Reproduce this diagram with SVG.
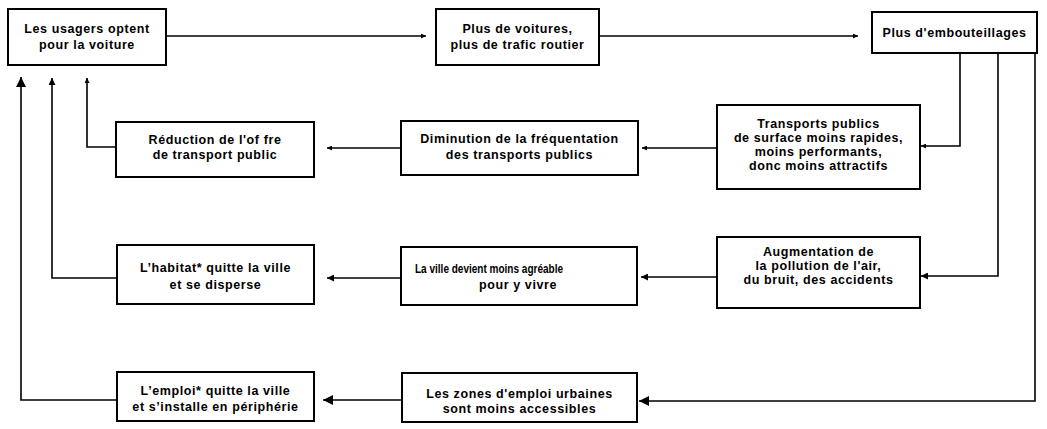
<svg xmlns="http://www.w3.org/2000/svg" width="1047" height="429" viewBox="0 0 1047 429">
<style>
.box{fill:#fff;stroke:#000;stroke-width:2}
.t{font-family:"Liberation Sans",Arial,sans-serif;font-size:12.5px;letter-spacing:0.6px;font-weight:bold;fill:#000;text-anchor:middle}
.c{fill:none;stroke:#000;stroke-width:1.6}
</style>
<defs>
<marker id="sm" viewBox="0 0 10 10" refX="10" refY="5" markerUnits="userSpaceOnUse" markerWidth="8" markerHeight="5" orient="auto"><path d="M0,0 L10,5 L0,10 z" fill="#000"/></marker>
<marker id="md" viewBox="0 0 10 10" refX="10" refY="5" markerUnits="userSpaceOnUse" markerWidth="10" markerHeight="7" orient="auto"><path d="M0,0 L10,5 L0,10 z" fill="#000"/></marker>
<marker id="lg" viewBox="0 0 10 10" refX="10" refY="5" markerUnits="userSpaceOnUse" markerWidth="12" markerHeight="10" orient="auto"><path d="M0,0 L10,5 L0,10 z" fill="#000"/></marker>
</defs>
<rect width="1047" height="429" fill="#fff"/>
<g id="connectors">
<path class="c" d="M166,36 H426" marker-end="url(#sm)"/>
<path class="c" d="M599,36 H858" marker-end="url(#sm)"/>
<path class="c" d="M960,53 V146 H921" marker-end="url(#sm)"/>
<path class="c" d="M717,148 H642" marker-end="url(#sm)"/>
<path class="c" d="M401,148 H327" marker-end="url(#sm)"/>
<path class="c" d="M116,147 H87 V78" marker-end="url(#sm)"/>
<path class="c" d="M998,53 V276 H921" marker-end="url(#md)"/>
<path class="c" d="M717,277 H641" marker-end="url(#md)"/>
<path class="c" d="M401,278 H327" marker-end="url(#md)"/>
<path class="c" d="M117,278 H52 V78" marker-end="url(#md)"/>
<path class="c" d="M1035,53 V401 H639" marker-end="url(#lg)"/>
<path class="c" d="M402,400 H323" marker-end="url(#lg)"/>
<path class="c" d="M117,400 H21 V77" marker-end="url(#lg)"/>
</g>
<g id="n1"><rect class="box" x="8" y="9" width="158" height="56"/>
<text class="t" x="87" y="33">Les usagers optent</text><text class="t" x="87" y="49">pour la voiture</text></g>
<g id="n2"><rect class="box" x="436" y="9" width="163" height="56"/>
<text class="t" x="517.5" y="33">Plus de voitures,</text><text class="t" x="517.5" y="49">plus de trafic routier</text></g>
<g id="n3"><rect class="box" x="872" y="12" width="165" height="41"/>
<text class="t" x="954.5" y="37">Plus d'embouteillages</text></g>
<g id="n4"><rect class="box" x="717" y="105" width="203" height="84"/>
<text class="t" x="818.5" y="128">Transports publics</text><text class="t" x="818.5" y="142">de surface moins rapides,</text><text class="t" x="818.5" y="156">moins performants,</text><text class="t" x="818.5" y="170">donc moins attractifs</text></g>
<g id="n5"><rect class="box" x="401" y="121" width="237" height="54"/>
<text class="t" x="519.5" y="143">Diminution de la fréquentation</text><text class="t" x="519.5" y="159">des transports publics</text></g>
<g id="n6"><rect class="box" x="116" y="122" width="198" height="55"/>
<text class="t" x="215" y="144">Réduction de l'of fre</text><text class="t" x="215" y="159">de transport public</text></g>
<g id="n7"><rect class="box" x="717" y="237" width="203" height="71"/>
<text class="t" x="818.5" y="256">Augmentation de</text><text class="t" x="818.5" y="270">la pollution de l'air,</text><text class="t" x="818.5" y="284">du bruit, des accidents</text></g>
<g id="n8"><rect class="box" x="401" y="247" width="236" height="58"/>
<text class="t" x="415" y="273" style="text-anchor:start;letter-spacing:0" textLength="148" lengthAdjust="spacingAndGlyphs">La ville devient moins agréable</text><text class="t" x="518" y="289">pour y vivre</text></g>
<g id="n9"><rect class="box" x="117" y="245" width="197" height="59"/>
<text class="t" x="215.5" y="272">L’habitat* quitte la ville</text><text class="t" x="215.5" y="289">et se disperse</text></g>
<g id="n10"><rect class="box" x="402" y="373" width="235" height="49"/>
<text class="t" x="519.5" y="398">Les zones d'emploi urbaines</text><text class="t" x="519.5" y="413">sont moins accessibles</text></g>
<g id="n11"><rect class="box" x="117" y="372" width="197" height="49"/>
<text class="t" x="215.5" y="395">L’emploi* quitte la ville</text><text class="t" x="215.5" y="411">et s’installe en périphérie</text></g>
</svg>
